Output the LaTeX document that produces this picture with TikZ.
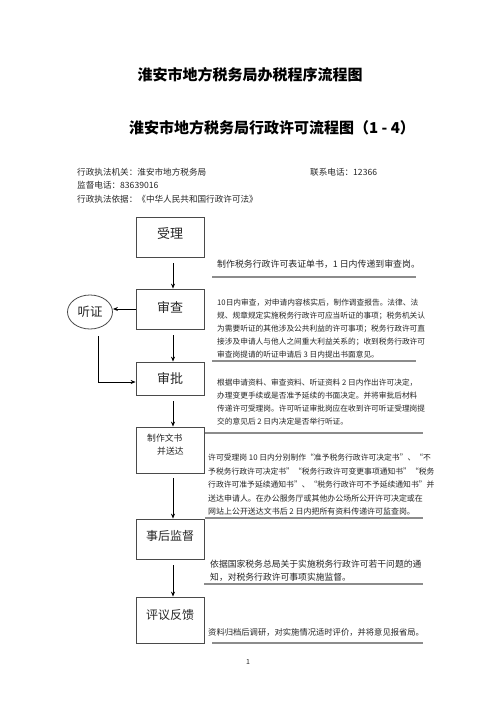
\documentclass[tikz,border=0pt]{standalone}
\usepackage{fontspec}
\setmainfont{Noto Sans CJK SC}
\usetikzlibrary{arrows.meta,shapes.geometric}
\definecolor{boxgray}{HTML}{4A4A4A}
\definecolor{rulegray}{HTML}{8C8C8C}
\definecolor{txtgray}{HTML}{262626}
\newcommand{\fs}[1]{\fontsize{#1bp}{#1bp}\selectfont}
\begin{document}
\begin{tikzpicture}[x=1bp,y=-1bp,
  stepbox/.style={draw=boxgray,line width=0.8bp,minimum width=68bp,inner sep=0pt},
  boxlbl/.style={inner sep=0pt,text=txtgray,font=\fs{12.5}},
  para/.style={anchor=west,inner sep=0pt,text=txtgray,font=\fs{7.7}},
  head/.style={anchor=west,inner sep=0pt,text=txtgray,font=\fs{8.6}},
  rulebar/.style={draw=rulegray,line width=1.4bp},
  arr/.style={draw=black,line width=0.8bp,-{Stealth[length=5bp,width=4bp]}}]
\useasboundingbox[fill=white] (0,0) rectangle (500,708);

% titles
\node[inner sep=0pt,font=\fs{15}\bfseries] (t1) at (250,75) {淮安市地方税务局办税程序流程图};
\node[inner sep=0pt,font=\fs{15}\bfseries] (t2) at (272,128) {淮安市地方税务局行政许可流程图（1 - 4）};

% header
\node[head] (h1) at (77,172) {行政执法机关：淮安市地方税务局};
\node[head] (h2) at (310,172) {联系电话：12366};
\node[head] (h3) at (77,185) {监督电话：83639016};
\node[head] (h4) at (77,199) {行政执法依据：《中华人民共和国行政许可法》};

% boxes
\node[stepbox,minimum height=40bp] (shouli) at (170,237) {};
\node[boxlbl,font=\fs{13}] (shoulit) at (170,234) {受理};
\node[stepbox,minimum height=40bp] (shencha) at (170,309) {};
\node[boxlbl,font=\fs{13}] (shenchat) at (170,307) {审查};
\node[stepbox,minimum height=33bp] (shenpi) at (170,378.5) {};
\node[boxlbl,font=\fs{13}] (shenpit) at (170,378) {审批};
\node[stepbox,minimum height=46bp] (zhizuo) at (170,450) {};
\node[inner sep=0pt,anchor=west,text=txtgray,font=\fs{8.8}] (zhizuot1) at (147,438) {制作文书};
\node[inner sep=0pt,anchor=west,text=txtgray,font=\fs{8.8}] (zhizuot2) at (157,451) {并送达};
\node[stepbox,minimum height=40bp] (shihou) at (170,539) {};
\node[boxlbl,font=\fs{12}] (shihout) at (170,536) {事后监督};
\node[stepbox,minimum height=46bp] (pingyi) at (170,620) {};
\node[boxlbl,font=\fs{12}] (pingyit) at (170,615) {评议反馈};
\node[ellipse,draw=boxgray,line width=0.8bp,minimum width=45bp,minimum height=34bp,inner sep=0pt,text=txtgray,font=\fs{12.5}] (tingzheng) at (90,312) {听证};

% connectors
\draw[arr,shorten <=6bp] ([xshift=3bp]shouli.south) -- ([xshift=3bp]shencha.north);
\draw[arr,shorten <=6bp] ([xshift=3bp]shencha.south) -- ([xshift=3bp]shenpi.north);
\draw[arr,shorten <=6bp] ([xshift=3bp]shenpi.south) -- ([xshift=3bp]zhizuo.north);
\draw[arr,shorten <=5bp] ([xshift=3bp]zhizuo.south) -- ([xshift=3bp]shihou.north);
\draw[arr,shorten <=6bp] ([xshift=3bp]shihou.south) -- ([xshift=3bp]pingyi.north);
\draw[arr] (shencha.west) -- (shencha.west -| tingzheng.east);
\draw[arr,shorten <=7bp] ([xshift=8bp]tingzheng.south) |- ([yshift=-3.5bp]shenpi.west);

% paragraph 1
\node[para,font=\fs{8.9}] (p1a) at (217,264) {制作税务行政许可表证单书，1 日内传递到审查岗。};
\draw[rulebar] (212,277) -- (416,277);

% paragraph 2
\node[para] (p2a) at (217,303) {10日内审查，对申请内容核实后，制作调查报告。法律、法};
\node[para] (p2b) at (217,316) {规、规章规定实施税务行政许可应当听证的事项；税务机关认};
\node[para] (p2c) at (217,329) {为需要听证的其他涉及公共利益的许可事项；税务行政许可直};
\node[para] (p2d) at (217,342) {接涉及申请人与他人之间重大利益关系的；收到税务行政许可};
\node[para] (p2e) at (217,355) {审查岗提请的听证申请后 3 日内提出书面意见。};
\draw[rulebar] (212,361) -- (416,361);

% paragraph 3
\node[para] (p3a) at (217,383) {根据申请资料、审查资料、听证资料 2 日内作出许可决定，};
\node[para] (p3b) at (217,396) {办理变更手续或是否准予延续的书面决定。并将审批后材料};
\node[para] (p3c) at (217,409) {传递许可受理岗。许可听证审批岗应在收到许可听证受理岗提};
\node[para] (p3d) at (217,422) {交的意见后 2 日内决定是否举行听证。};
\draw[rulebar] (205,433) -- (423,433);

% paragraph 4
\node[para,font=\fs{7.8}] (p4a) at (208,458) {许可受理岗 10 日内分别制作“准予税务行政许可决定书”、“不};
\node[para,font=\fs{7.8}] (p4b) at (208,471.5) {予税务行政许可决定书”“税务行政许可变更事项通知书”“税务};
\node[para,font=\fs{7.8}] (p4c) at (208,485) {行政许可准予延续通知书”、“税务行政许可不予延续通知书”并};
\node[para,font=\fs{7.95}] (p4d) at (208,498) {送达申请人。在办公服务厅或其他办公场所公开许可决定或在};
\node[para,font=\fs{7.95}] (p4e) at (208,511.5) {网站上公开送达文书后 2 日内把所有资料传递许可监查岗。};
\draw[rulebar] (205,518) -- (423,518);

% paragraph 5
\node[para,font=\fs{8.8}] (p5a) at (210,564) {依据国家税务总局关于实施税务行政许可若干问题的通};
\node[para,font=\fs{8.8}] (p5b) at (210,577) {知，对税务行政许可事项实施监督。};
\draw[rulebar] (204,584) -- (423,584);

% paragraph 6
\node[para,font=\fs{8.3}] (p6a) at (208,632) {资料归档后调研，对实施情况适时评价，并将意见报省局。};
\draw[rulebar] (212,643) -- (423,643);

% page number
\node[inner sep=0pt,text=txtgray,font=\fs{7}] (pg) at (248,662) {1};
\end{tikzpicture}
\end{document}
